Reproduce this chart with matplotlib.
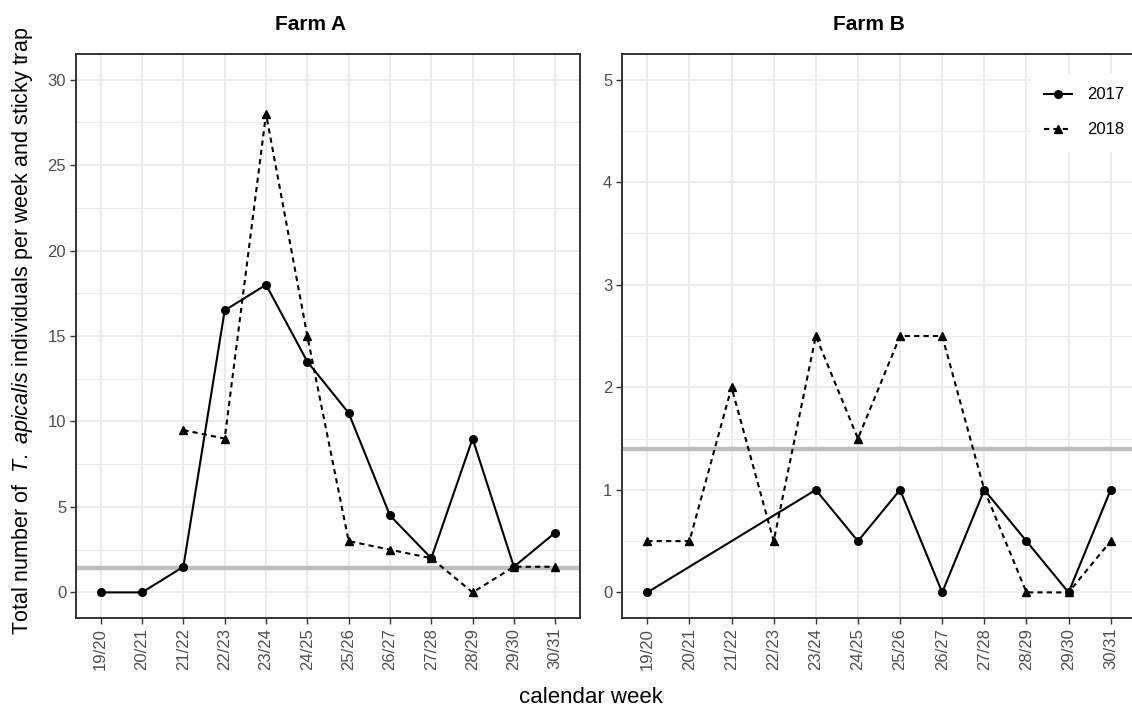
import numpy as np
import matplotlib
matplotlib.use("Agg")
import matplotlib.pyplot as plt

plt.rcParams['font.family'] = ['Liberation Sans', 'DejaVu Sans']
plt.rcParams['mathtext.fontset'] = 'custom'
plt.rcParams['mathtext.rm'] = 'Liberation Sans'
plt.rcParams['mathtext.it'] = 'Liberation Sans:italic'

# calendar weeks
weeks = ["19/20", "20/21", "21/22", "22/23", "23/24", "24/25",
         "25/26", "26/27", "27/28", "28/29", "29/30", "30/31"]

# Farm A
farmA_2017 = [0, 0, 1.5, 16.5, 18, 13.5, 10.5, 4.5, 2, 9, 1.5, 3.5]
farmA_2018 = [np.nan, np.nan, 9.5, 9, 28, 15, 3, 2.5, 2, 0, 1.5, 1.5]

# Farm B
farmB_2017 = [0, np.nan, np.nan, np.nan, 1, 0.5, 1, 0, 1, 0.5, 0, 1]
farmB_2018 = [0.5, 0.5, 2, 0.5, 2.5, 1.5, 2.5, 2.5, 1, 0, 0, 0.5]

threshold = 1.4

fig = plt.figure(figsize=(11.32, 7.09), dpi=100)
axA = fig.add_axes([0.0671, 0.1283, 0.4453, 0.7955])
axB = fig.add_axes([0.5495, 0.1283, 0.4540, 0.7955])

x = np.arange(len(weeks))


def draw_panel(ax, y17, y18, ylim, major, minor):
    ax.set_facecolor('white')
    ax.axhline(threshold, color='#BEBEBE', lw=3.2, zorder=2)
    y17 = np.array(y17, dtype=float)
    y18 = np.array(y18, dtype=float)
    # like geom_line: missing weeks are skipped, not broken
    m17 = ~np.isnan(y17)
    m18 = ~np.isnan(y18)
    ax.plot(x[m17], y17[m17], color='black', lw=1.5, ls='-', marker='o',
            ms=5.5, label='2017', zorder=3)
    ax.plot(x[m18], y18[m18], color='black', lw=1.5, ls=(0, (2.5, 2)),
            marker='^', ms=6.2, label='2018', zorder=3)
    ax.set_xlim(-0.6, len(weeks) - 0.4)
    ax.set_ylim(*ylim)
    ax.set_xticks(x)
    ax.set_xticklabels(weeks, rotation=90)
    ax.set_yticks(major)
    ax.set_yticks(minor, minor=True)
    ax.grid(which='major', color='#EBEBEB', lw=1.4, zorder=0)
    ax.grid(which='minor', axis='y', color='#EBEBEB', lw=0.8, zorder=0)
    ax.set_axisbelow(True)
    ax.tick_params(which='major', length=4, width=1, color='#333333',
                   labelcolor='#4D4D4D', labelsize=12, pad=3)
    ax.tick_params(which='minor', length=0)
    for s in ax.spines.values():
        s.set_color('#333333')
        s.set_linewidth(1.4)


draw_panel(axA, farmA_2017, farmA_2018, (-1.5, 31.5),
           [0, 5, 10, 15, 20, 25, 30], [2.5, 7.5, 12.5, 17.5, 22.5, 27.5])
draw_panel(axB, farmB_2017, farmB_2018, (-0.25, 5.25),
           [0, 1, 2, 3, 4, 5], [0.5, 1.5, 2.5, 3.5, 4.5])

fig.text(0.2747, 0.9577, "Farm A", ha='center', va='baseline',
         fontsize=15, fontweight='bold')
fig.text(0.7677, 0.9577, "Farm B", ha='center', va='baseline',
         fontsize=15, fontweight='bold')

leg = axB.legend(loc='upper left', bbox_to_anchor=(0.9105, 0.8955),
                 bbox_transform=fig.transFigure, borderaxespad=0,
                 frameon=True, fancybox=False, fontsize=12,
                 handlelength=1.7, labelspacing=1.2,
                 borderpad=0.8, handletextpad=0.9)
leg.get_frame().set_facecolor('white')
leg.get_frame().set_edgecolor('white')
leg.get_frame().set_alpha(1)

fig.text(0.020, 0.533,
         r"Total number of  $\mathit{T.\ apicalis}$ individuals per week and sticky trap",
         rotation=90, ha='center', va='center', fontsize=15.5)
fig.text(0.522, 0.009, "calendar week", ha='center', va='baseline', fontsize=16)

fig.savefig("out.png", dpi=100)
